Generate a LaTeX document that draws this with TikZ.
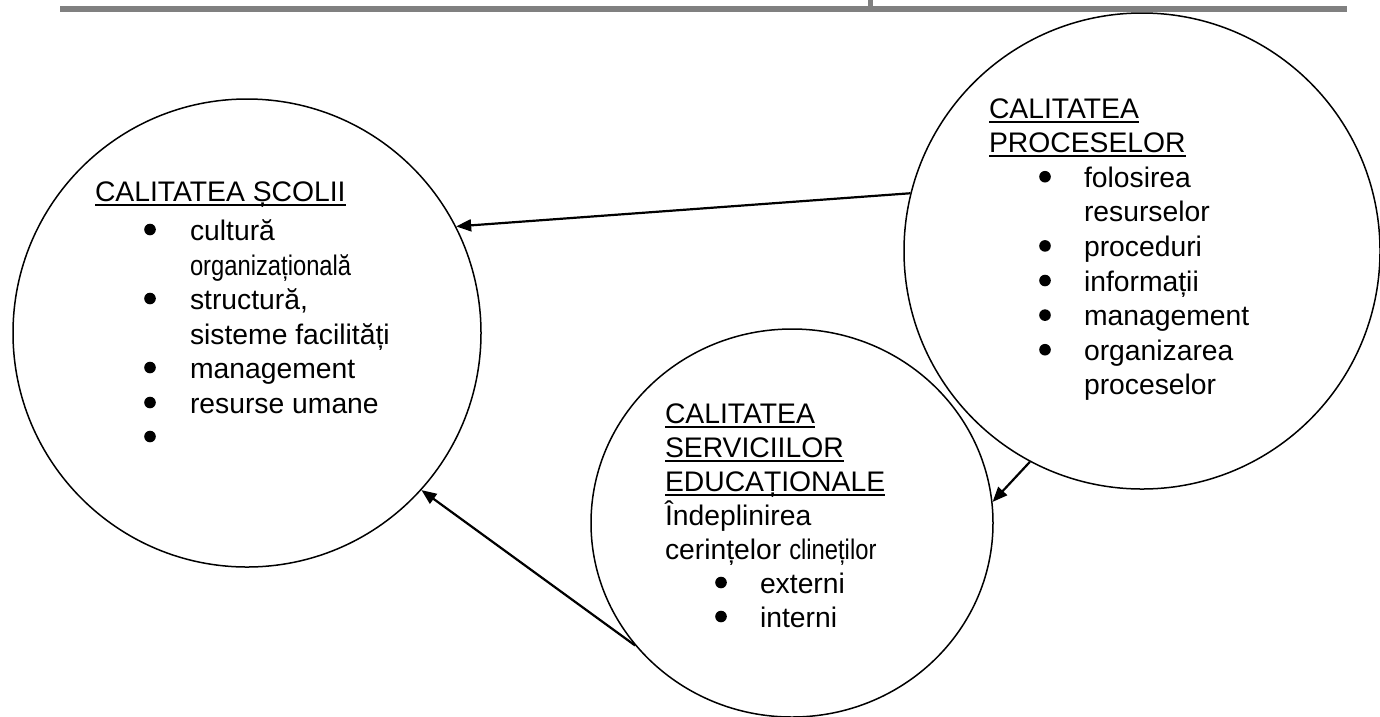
\documentclass[tikz,border=0pt]{standalone}
\usepackage{fontspec}
\setmainfont{Liberation Sans}
\newfontfamily\narrowf[FakeStretch=0.84]{Liberation Sans}
\usetikzlibrary{arrows.meta,shapes.geometric}
\definecolor{rulegray}{HTML}{808080}
\newcommand\ulx[1]{\setbox0\hbox{#1}\rlap{\rule[-4.6pt]{\wd0}{2pt}}\box0}
\begin{document}
\begin{tikzpicture}[x=1pt,y=-1pt,
  font=\fontsize{28.3}{34.6}\selectfont,
  ring/.style={draw, line width=1.5pt, inner sep=0pt},
  txt/.style={anchor=base west, inner sep=0pt, outer sep=0pt},
  conn/.style={line width=2.2pt, -{Triangle[length=15pt,width=12pt]}},
  dotb/.style={fill=black}]
\fill[white] (0,0) rectangle (1380,716);
\useasboundingbox (0,0) rectangle (1380,716);
% page rule
\draw[rulegray, line width=5.5pt] (60,8.75) -- (1347,8.75);
\draw[rulegray, line width=5pt] (870.5,0) -- (870.5,8);
% circles
\node[ring, circle, minimum size=468pt] (L) at (247,333) {};
\node[ring, circle, minimum size=476pt] (R) at (1142,251) {};
\node[ring, ellipse, minimum width=402pt, minimum height=388pt] (B) at (792,523) {};
% left text
\node[txt] (l0) at (95,201) {\ulx{CALITATEA ȘCOLII}};
\node[txt] (l1) at (190,240) {cultură};
\node[txt] (l2) at (190,275) {\narrowf organizațională};
\node[txt] (l3) at (190,309) {structură,};
\node[txt] (l4) at (190,344) {sisteme facilități};
\node[txt] (l5) at (190,378) {management};
\node[txt] (l6) at (190,413) {resurse umane};
\foreach \y in {240,309,378,413,447} \fill[dotb] (150,\y-10.5) circle (5.8);
% right text
\node[txt] (r0) at (989,118) {\ulx{CALITATEA}};
\node[txt] (r1) at (989,152.6) {\ulx{PROCESELOR}};
\node[txt] (r2) at (1084,187.2) {folosirea};
\node[txt] (r3) at (1084,221.8) {resurselor};
\node[txt] (r4) at (1084,256.4) {proceduri};
\node[txt] (r5) at (1084,291) {informații};
\node[txt] (r6) at (1084,325.6) {management};
\node[txt] (r7) at (1084,360.2) {organizarea};
\node[txt] (r8) at (1084,394.8) {proceselor};
\foreach \y in {187.2,256.4,291,325.6,360.2} \fill[dotb] (1045,\y-10.5) circle (5.8);
% bottom text
\node[txt] (b0) at (665,423) {\ulx{CALITATEA}};
\node[txt] (b1) at (665,457) {\ulx{SERVICIILOR}};
\node[txt] (b2) at (665,491) {\ulx{EDUCAȚIONALE}};
\node[txt] (b3) at (665,525) {Îndeplinirea};
\node[txt] (b4) at (665,559) {cerințelor {\narrowf clineților}};
\node[txt] (b5) at (760,593) {externi};
\node[txt] (b6) at (760,627) {interni};
\foreach \y in {593,627} \fill[dotb] (721,\y-10.5) circle (5.8);
% connectors
\draw[conn] (R.242.8) -- (B.6.8);
\draw[conn] (R.166.4) -- (L.27.3);
\draw[conn] (B.218.9) -- (L.318);
\end{tikzpicture}
\end{document}
